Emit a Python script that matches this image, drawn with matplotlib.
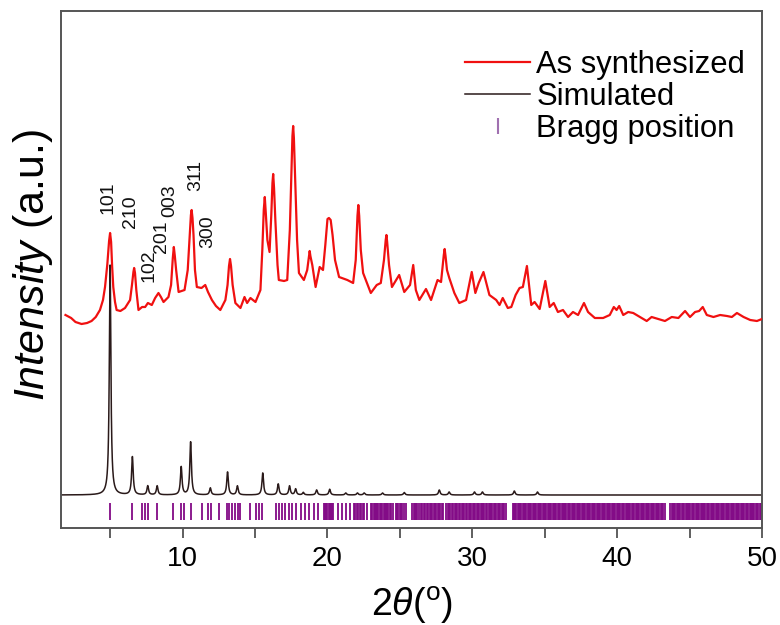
import numpy as np
import matplotlib
matplotlib.use("Agg")
import matplotlib.pyplot as plt
from matplotlib.lines import Line2D
from matplotlib.ticker import MultipleLocator

plt.rcParams["font.family"] = ["Liberation Sans", "DejaVu Sans"]
plt.rcParams["mathtext.fontset"] = "custom"
plt.rcParams["mathtext.rm"] = "Liberation Sans"
plt.rcParams["mathtext.it"] = "Liberation Sans:italic"

# ---- measured pattern (2theta in degrees, intensity in a.u., offset upward) ----
exp_2theta = [
    1.91, 2.3, 2.6, 3.02, 3.4, 3.71, 4.0, 4.29, 4.5, 4.64, 4.8, 4.92, 4.99, 5.06, 5.13,
    5.21, 5.33, 5.44, 5.7, 6.02, 6.37, 6.5, 6.6, 6.65, 6.71, 6.8, 6.95, 7.2, 7.41, 7.6,
    7.87, 8.1, 8.33, 8.5, 8.68, 9.02, 9.2, 9.32, 9.39, 9.46, 9.55, 9.72, 10.13, 10.35,
    10.5, 10.57, 10.62, 10.68, 10.75, 10.85, 10.98, 11.3, 11.56, 11.75, 12.02, 12.3,
    12.6, 12.95, 13.1, 13.2, 13.27, 13.34, 13.45, 13.64, 13.99, 14.27, 14.45, 14.68,
    15.03, 15.37, 15.5, 15.6, 15.67, 15.74, 15.85, 16.0, 16.12, 16.2, 16.25, 16.31,
    16.4, 16.55, 16.64, 17.0, 17.22, 17.4, 17.52, 17.58, 17.63, 17.68, 17.75, 17.9,
    18.03, 18.37, 18.6, 18.72, 18.77, 18.82, 18.95, 19.18, 19.46, 19.69, 19.85, 20.0,
    20.1, 20.22, 20.35, 20.52, 20.8, 21.37, 21.77, 21.95, 22.07, 22.13, 22.19, 22.3,
    22.46, 22.99, 23.4, 23.68, 23.9, 24.02, 24.07, 24.12, 24.25, 24.45, 24.95, 25.3,
    25.7, 25.92, 26.1, 26.34, 26.8, 27.15, 27.6, 27.84, 28.03, 28.09, 28.15, 28.25,
    28.41, 28.76, 29.1, 29.57, 29.96, 30.21, 30.44, 30.77, 31.18, 31.65, 31.88, 32.1,
    32.45, 32.69, 32.99, 33.26, 33.49, 33.77, 34.07, 34.3, 34.65, 35.04, 35.34, 35.62,
    35.91, 36.26, 36.61, 36.95, 37.3, 37.71, 37.99, 38.46, 39.03, 39.49, 39.77, 39.96,
    40.14, 40.42, 40.76, 41.11, 41.57, 42.04, 42.38, 42.84, 43.3, 43.77, 44.23, 44.69,
    45.03, 45.38, 45.66, 45.91, 46.19, 46.65, 47.11, 47.58, 47.92, 48.27, 48.73, 49.19,
    49.65, 50.0,
]
exp_intensity = [
    213, 210, 206, 204, 205, 207, 211, 218, 228, 241, 264, 287, 295, 286, 262,
    241, 226, 218, 217, 220, 228, 243, 256, 260, 255, 238, 218, 221, 221, 225,
    223, 230, 235, 231, 226, 231, 243, 270, 281, 272, 258, 236, 238, 258,
    296, 313, 318, 310, 293, 258, 241, 240, 243, 236, 228, 222,
    218, 228, 243, 262, 269, 262, 243, 225, 220, 231, 225, 230,
    226, 238, 278, 318, 331, 315, 288, 276, 313, 345, 354, 340,
    308, 263, 248, 247, 248, 298, 360, 392, 402, 390, 358, 288,
    255, 248, 258, 272, 277, 272, 263, 241, 261, 258, 283, 309,
    310, 308, 293, 268, 251, 248, 245, 268, 312, 323, 312, 278,
    255, 235, 243, 245, 268, 288, 293, 286, 263, 241, 253, 236,
    243, 263, 238, 228, 239, 228, 248, 246, 273, 279, 272, 258,
    250, 235, 225, 228, 256, 235, 245, 256, 233, 228, 223, 230,
    220, 221, 233, 240, 241, 262, 223, 226, 219, 247, 221, 225,
    216, 218, 211, 216, 213, 225, 216, 210, 210, 213, 221, 218,
    222, 213, 216, 215, 211, 207, 211, 209, 207, 211, 210, 217,
    211, 216, 217, 221, 213, 211, 213, 212, 211, 215, 211, 208,
    207, 209,
]

# ---- simulated pattern: reflection positions and peak heights ----
sim_baseline = 33
sim_peak_pos = [4.99, 6.53, 7.59, 8.24, 9.90, 10.55, 11.91, 13.10, 13.78, 15.53,
                16.60, 17.38, 17.80, 18.33, 19.25, 20.15, 21.26, 22.07, 22.53,
                23.80, 25.30, 27.72, 28.40, 30.15, 30.70, 32.90, 34.50]
sim_peak_height = [230, 38, 9, 9, 28, 53, 7, 23, 9, 22,
                   11, 9, 6, 2.5, 5, 5.7, 2, 2, 2,
                   2, 2.5, 5, 3, 3, 3, 4, 3]
sim_hwhm = 0.065

# ---- Bragg reflection positions ----
bragg_pos = [
    4.99, 6.50, 7.22, 7.40, 7.62, 8.24, 9.30, 9.92, 10.10, 10.56, 11.33, 11.78,
    11.98, 12.49, 13.08, 13.20, 13.41, 13.62, 13.82, 13.99, 14.68, 15.03, 15.26,
    15.49,
    16.46, 16.64, 16.87, 17.06, 17.33, 17.56, 17.84, 18.14, 18.44, 18.72, 19.07,
    19.36, 19.76, 19.84, 19.92, 20.00, 20.08, 20.16, 20.24, 20.32, 20.40, 20.75,
    20.98, 21.26, 21.54, 21.84, 21.93, 22.02, 22.12, 22.22, 22.31, 22.42, 22.53,
    22.76, 22.99, 23.08, 23.18, 23.26, 23.35, 23.44, 23.52, 23.60, 23.70, 23.78,
    23.87, 23.95, 24.04, 24.12, 24.21, 24.30, 24.38, 24.49, 24.72, 24.82, 24.90,
    24.98, 25.08, 25.17, 25.25, 25.40, 25.86, 25.94, 26.03, 26.12, 26.20, 26.30,
    26.46, 26.55, 26.66, 26.74, 26.84, 26.93, 27.05, 27.14, 27.22, 27.33, 27.42,
    27.52, 27.60, 27.70, 27.80, 27.88, 27.95, 28.20, 28.30, 28.38, 28.47, 28.58,
    28.66, 28.78, 28.86, 28.95, 29.08, 29.17, 29.26, 29.36, 29.44, 29.58, 29.66,
    29.76, 29.85, 29.94, 30.02, 30.12, 30.21, 30.30, 30.40, 30.48, 30.58, 30.66,
    30.76, 30.84, 30.94, 31.02, 31.12, 31.20, 31.30, 31.38, 31.48, 31.56, 31.66,
    31.74, 31.84, 31.93, 32.02, 32.12, 32.20, 32.32,
    32.78, 32.86, 32.95, 33.04, 33.12, 33.21, 33.30, 33.38, 33.47, 33.56, 33.64,
    33.73, 33.82, 33.90, 33.99, 34.08, 34.16, 34.25, 34.34, 34.42, 34.51, 34.60,
    34.68, 34.77, 34.86, 34.94, 35.03, 35.12, 35.20, 35.29, 35.38, 35.46, 35.55,
    35.64, 35.72, 35.81, 35.90, 35.98, 36.07, 36.16, 36.24, 36.33, 36.42, 36.50,
    36.59, 36.68, 36.76, 36.85, 36.94, 37.02, 37.11, 37.20, 37.28, 37.37, 37.46,
    37.54, 37.63, 37.72, 37.80, 37.89, 37.98, 38.06, 38.15, 38.24, 38.32, 38.41,
    38.50, 38.58, 38.67, 38.76, 38.84, 38.93, 39.02, 39.10, 39.19, 39.28, 39.36,
    39.45, 39.54, 39.62, 39.71, 39.80, 39.88, 39.97, 40.06, 40.14, 40.23, 40.32,
    40.40, 40.49, 40.58, 40.66, 40.75, 40.84, 40.92, 41.01, 41.10, 41.18, 41.27,
    41.36, 41.44, 41.53, 41.62, 41.70, 41.79, 41.88, 41.96, 42.05, 42.14, 42.22,
    42.31, 42.40, 42.48, 42.57, 42.66, 42.74, 42.83, 42.92, 43.00, 43.09, 43.18,
    43.30, 43.68, 43.76, 43.85, 43.94, 44.02, 44.11, 44.20, 44.28, 44.37, 44.46,
    44.54, 44.63, 44.72, 44.80, 44.89, 44.98, 45.06, 45.15, 45.24, 45.32, 45.41,
    45.50, 45.58, 45.67, 45.76, 45.84, 45.93, 46.02, 46.10, 46.19, 46.28, 46.36,
    46.45, 46.54, 46.62, 46.71, 46.80, 46.88, 46.97, 47.06, 47.14, 47.23, 47.32,
    47.40, 47.49, 47.58, 47.66, 47.75, 47.84, 47.92, 48.01, 48.10, 48.18, 48.27,
    48.36, 48.44, 48.53, 48.62, 48.70, 48.79, 48.88, 48.96, 49.05, 49.14, 49.22,
    49.31, 49.40, 49.48, 49.57, 49.66, 49.74, 49.83, 49.92, 50.00,
]

# ---- Miller indices of the labelled low-angle reflections ----
hkl_labels = ["101", "210", "102", "201", "003", "311", "300"]

# ---------------------------------------------------------------------------
fig = plt.figure(figsize=(7.8, 6.25), dpi=100)
ax = fig.add_axes([0.0782, 0.1552, 0.8987, 0.8272])

# simulated profile: Lorentzian line shape at each reflection
grid = np.linspace(1.6, 50, 6000)
sim = np.full_like(grid, sim_baseline, dtype=float)
for p, h in zip(sim_peak_pos, sim_peak_height):
    sim += h * sim_hwhm**2 / ((grid - p) ** 2 + sim_hwhm**2)

ax.plot(exp_2theta, exp_intensity, color="#f01010", lw=1.6, label="As synthesized",
        zorder=3, solid_joinstyle="round")
ax.plot(grid, sim, color="#2a1a1a", lw=1.1, label="Simulated", zorder=2)
ax.vlines(bragg_pos, 8.5, 25.5, colors="#820a86", lw=1.3, zorder=2)

# hkl annotations
label_x = [4.87, 6.39, 7.71, 8.54, 9.09, 10.89, 11.72]
label_y = [330, 316, 262, 291, 327, 353, 296]
for txt, lx, ly in zip(hkl_labels, label_x, label_y):
    ax.text(lx, ly, txt, rotation=90, ha="center", va="center", fontsize=14,
            color="#111111")

ax.set_xlim(1.6, 50)
ax.set_ylim(0, 517)
ax.xaxis.set_major_locator(MultipleLocator(10))
ax.xaxis.set_minor_locator(MultipleLocator(5))
ax.tick_params(axis="x", which="both", direction="out", length=7, width=1.2,
               color="#444444", labelsize=20, pad=6)
ax.tick_params(axis="y", left=False, labelleft=False)
for s in ax.spines.values():
    s.set_color("#555555")
    s.set_linewidth(1.4)

ax.set_xlabel(r"2$\mathit{\theta}$($^{\mathrm{o}}$)", fontsize=27, labelpad=9)
ax.set_ylabel(r"$\mathit{Intensity}$ (a.u.)", fontsize=31)
ax.yaxis.set_label_coords(-0.008, 0.509)

handles = [
    Line2D([], [], color="#f01010", lw=1.6),
    Line2D([], [], color="#2a1a1a", lw=1.1),
    Line2D([], [], color="#a070b0", marker="|", linestyle="None", markersize=12,
           markeredgewidth=1.5),
]
ax.legend(handles, ["As synthesized", "Simulated", "Bragg position"],
          loc="upper right", bbox_to_anchor=(0.976, 0.925), frameon=False,
          fontsize=22.3, handlelength=2.1, handletextpad=0.19, labelspacing=0.07,
          borderpad=0, borderaxespad=0)

fig.savefig("out.png", dpi=100)
